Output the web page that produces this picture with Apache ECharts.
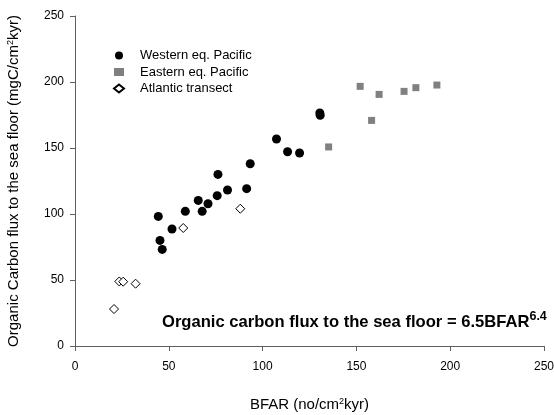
<!DOCTYPE html>
<html>
<head>
<meta charset="utf-8">
<script src="https://cdn.jsdelivr.net/npm/echarts@6/dist/echarts.min.js"></script>
<style>html,body{margin:0;padding:0;background:#fff}#c{width:554px;height:415px}</style>
</head>
<body>
<div id="c"></div>
<script>
var xTicks = [0, 50, 100, 150, 200, 250];
var yTicks = [0, 50, 100, 150, 200, 250];
var seriesNames = ['Western eq. Pacific', 'Eastern eq. Pacific', 'Atlantic transect'];
var western = [[44.4,98.2],[45.3,80],[46.5,73.2],[51.7,88.6],[58.8,102],[65.7,110.3],[67.8,102],[70.9,107.8],[75.8,113.9],[76.2,130],[81.3,118.2],[91.5,119.2],[93.4,138.1],[107.4,156.8],[113.3,147.2],[119.7,146.2],[130.5,176.5],[130.7,174.8]];
var eastern = [[135.2,150.8],[152,196.7],[158.1,170.9],[162.1,190.6],[175.4,192.9],[181.7,195.7],[192.9,197.7]];
var atlantic = [[20.8,28],[23.6,48.9],[25.7,48.7],[32.3,47.2],[57.7,89.4],[88.1,104]];

var FONT = 'Liberation Sans, Arial, sans-serif';
var AXC = '#606060';
var chart = echarts.init(document.getElementById('c'), null, {renderer: 'canvas'});
var axisCommon = {
  type: 'value', min: xTicks[0], max: xTicks[xTicks.length - 1], interval: 50,
  axisLine: {show: true, lineStyle: {color: AXC, width: 1}},
  axisTick: {show: true, inside: false, length: 5, lineStyle: {color: AXC}},
  splitLine: {show: false},
  axisLabel: {color: '#000', fontSize: 12, fontFamily: FONT, margin: 11}
};
var supRich = {s: {fontSize: 9, verticalAlign: 'top', padding: [0,0,7,0], fontFamily: FONT, color: '#000'}};
chart.setOption({
  animation: false,
  backgroundColor: '#fff',
  textStyle: {fontFamily: FONT},
  grid: {left: 75, right: 10, top: 16, bottom: 69, outerBoundsMode: 'none', containLabel: false},
  legend: {
    orient: 'vertical', left: 108, top: 44, itemWidth: 10, itemHeight: 8, itemGap: 3.5,
    textStyle: {fontSize: 13, color: '#000', fontFamily: FONT, padding: [0,0,0,11]},
    data: [
      {name: seriesNames[0], icon: 'circle'},
      {name: seriesNames[1], icon: 'rect'},
      {name: seriesNames[2], icon: 'diamond'}
    ]
  },
  xAxis: Object.assign({}, axisCommon, {
    name: 'BFAR (no/cm{s|2}kyr)', nameLocation: 'middle', nameGap: 51,
    nameTextStyle: {fontSize: 15, color: '#000', fontFamily: FONT, rich: supRich},
    axisLabel: Object.assign({}, axisCommon.axisLabel, {margin: 15})
  }),
  yAxis: Object.assign({}, axisCommon, {
    min: yTicks[0], max: yTicks[yTicks.length - 1],
    name: 'Organic Carbon flux to the sea floor (mgC/cm{s|2}kyr)', nameLocation: 'middle', nameGap: 53,
    nameTextStyle: {fontSize: 15, color: '#000', fontFamily: FONT, rich: supRich}
  }),
  graphic: [{
    type: 'text', left: 162, top: 310,
    style: {
      text: '{a|Organic carbon flux to the sea floor = 6.5BFAR}{b|6.4}',
      rich: {
        a: {fontSize: 16.6, fontWeight: 'bold', fill: '#000', fontFamily: FONT, verticalAlign: 'bottom'},
        b: {fontSize: 12.5, fontWeight: 'bold', fill: '#000', fontFamily: FONT, verticalAlign: 'top', padding: [0,0,8,0]}
      }
    }
  }],
  series: [
    {name: seriesNames[0], type: 'scatter', data: western, symbol: 'circle', symbolSize: 9,
     itemStyle: {color: '#000', opacity: 1}, z: 3},
    {name: seriesNames[1], type: 'scatter', data: eastern, symbol: 'rect', symbolSize: 7,
     itemStyle: {color: '#808080', opacity: 1}, z: 2},
    {name: seriesNames[2], type: 'scatter', data: atlantic, symbol: 'diamond', symbolSize: 9,
     itemStyle: {color: '#fff', borderColor: '#000', borderWidth: 1, opacity: 1}, z: 4}
  ]
});
</script>
</body>
</html>
